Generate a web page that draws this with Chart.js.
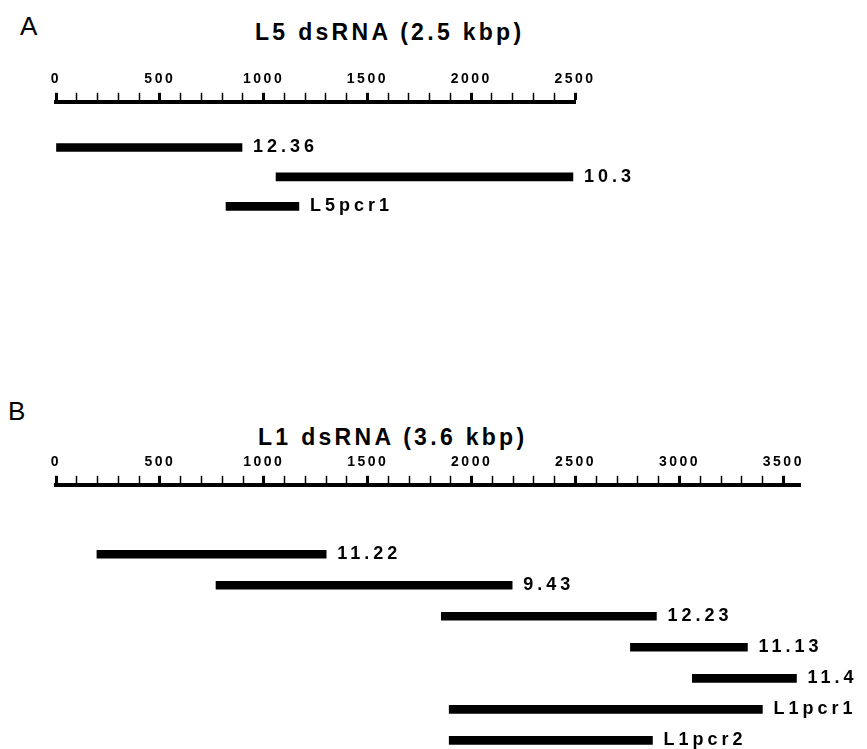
<!DOCTYPE html>
<html>
<head>
<meta charset="utf-8">
<script src="https://cdn.jsdelivr.net/npm/chart.js@4.4.1/dist/chart.umd.min.js"></script>
<style>
    body { margin: 0; background: #fff; }
    #wrap { position: relative; width: 867px; height: 749px; overflow: hidden; }
    canvas { position: absolute; left: 0; }
    .letter { position: absolute; font: 26px "Liberation Sans", Arial, sans-serif; line-height: 1; color: #000; }
    .title { position: absolute; font: bold 23px "Liberation Sans", Arial, sans-serif; letter-spacing: 3.3px; line-height: 1; color: #000; white-space: nowrap; }
</style>
</head>
<body>
<div id="wrap">
    <div class="letter" style="left:20px; top:13px;">A</div>
    <div class="title" style="left:255px; top:21px;">L5 dsRNA (2.5 kbp)</div>
    <canvas id="chartA" width="867" height="240" style="top:0px;"></canvas>

    <div class="letter" style="left:8px; top:398px;">B</div>
    <div class="title" style="left:258px; top:426px;">L1 dsRNA (3.6 kbp)</div>
    <canvas id="chartB" width="867" height="369" style="top:380px;"></canvas>
</div>

<script>
// Panel A - L5 dsRNA clones (start / end in bp)
const panelALabels = ['12.36', '10.3', 'L5pcr1'];
const panelAStarts = [0, 1060, 819];
const panelAEnds = [896, 2490, 1170];
const panelAMax = 2500;
const panelATickLabels = [0, 500, 1000, 1500, 2000, 2500];

// Panel B - L1 dsRNA clones (start / end in bp)
const panelBLabels = ['11.22', '9.43', '12.23', '11.13', '11.4', 'L1pcr1', 'L1pcr2'];
const panelBStarts = [197, 770, 1854, 2764, 3062, 1892, 1892];
const panelBEnds = [1300, 2195, 2889, 3327, 3563, 3399, 2870];
const panelBMax = 3580;
const panelBTickLabels = [0, 500, 1000, 1500, 2000, 2500, 3000, 3500];

const FONT = '"Liberation Sans", Arial, sans-serif';

const isLabelled = (list, v) => list.includes(Math.round(v));

// draws the clone name to the right of each bar
const barEndLabels = {
    id: 'barEndLabels',
    beforeDraw(chart) {
        chart.ctx.letterSpacing = '2.5px';
    },
    afterDatasetsDraw(chart, args, opts) {
        const ctx = chart.ctx;
        const meta = chart.getDatasetMeta(0);
        ctx.save();
        ctx.fillStyle = '#000';
        ctx.font = 'bold 18px ' + FONT;
        ctx.letterSpacing = '4px';
        ctx.textAlign = 'left';
        ctx.textBaseline = 'middle';
        meta.data.forEach((bar, i) => {
            ctx.fillText(opts.labels[i], bar.x + 11, bar.y);
        });
        ctx.restore();
    }
};

function makeMap(canvasId, labels, starts, ends, axisMax, tickLabels, layout) {
    const points = labels.map((lab, i) => ({ x: [starts[i], ends[i]], y: layout.firstRow + i }));
    return new Chart(document.getElementById(canvasId), {
        type: 'bar',
        data: {
            datasets: [{
                data: points,
                backgroundColor: '#000',
                borderWidth: 0,
                barThickness: 8
            }]
        },
        options: {
            indexAxis: 'y',
            responsive: false,
            animation: false,
            layout: { padding: layout.padding },
            plugins: {
                legend: { display: false },
                tooltip: { enabled: false },
                barEndLabels: { labels: labels }
            },
            scales: {
                x: {
                    type: 'linear',
                    position: 'top',
                    min: 0,
                    max: axisMax,
                    border: { display: true, color: '#000', width: 4 },
                    grid: {
                        drawOnChartArea: false,
                        drawTicks: true,
                        tickLength: 9,
                        tickColor: '#000',
                        tickWidth: c => (isLabelled(tickLabels, c.tick.value) ? 3 : 1.5)
                    },
                    ticks: {
                        stepSize: 100,
                        includeBounds: false,
                        autoSkip: false,
                        maxRotation: 0,
                        padding: 5,
                        color: '#000',
                        font: { family: FONT, size: 14, weight: 'bold' },
                        callback: v => (isLabelled(tickLabels, v) ? String(Math.round(v)) : '')
                    }
                },
                y: {
                    type: 'linear',
                    display: false,
                    offset: false,
                    reverse: true,
                    min: 0,
                    max: layout.rowsMax
                }
            }
        },
        plugins: [barEndLabels]
    });
}

makeMap('chartA', panelALabels, panelAStarts, panelAEnds, panelAMax, panelATickLabels, {
    padding: { left: 56, right: 292, top: 66, bottom: 0 },
    firstRow: 1.55,
    rowsMax: 4.69
});

makeMap('chartB', panelBLabels, panelBStarts, panelBEnds, panelBMax, panelBTickLabels, {
    padding: { left: 56, right: 67, top: 69, bottom: 0 },
    firstRow: 2.24,
    rowsMax: 8.52
});
</script>
</body>
</html>
